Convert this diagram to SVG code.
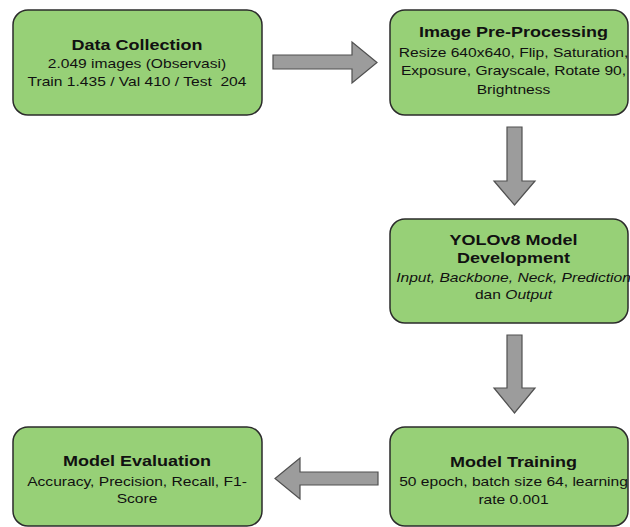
<svg xmlns="http://www.w3.org/2000/svg" width="630" height="527" viewBox="0 0 630 527">
  <style>
    .box { fill: #97D077; stroke: #2b2b2b; stroke-width: 1.5; }
    .arrow { fill: #9c9c9c; stroke: #505050; stroke-width: 1.2; stroke-linejoin: miter; }
    text { font-family: "Liberation Sans", Arial, sans-serif; fill: #111; text-anchor: middle; }
    .title { font-size: 15px; font-weight: bold; }
    .body { font-size: 13px; }
    .it { font-style: italic; }
  </style>
  <rect width="630" height="527" fill="#ffffff"/>

  <g id="connectors">
    <path class="arrow" d="M273,55 H352 V42 L377,62.5 L352,83 V69 H273 Z"/>
    <path class="arrow" d="M507,127 H522 V181 H535 L514.5,205 L494,181 H507 Z"/>
    <path class="arrow" d="M507,335 H522 V388 H535 L514.5,413 L494,388 H507 Z"/>
    <path class="arrow" d="M378,472 H300 V458 L275,478.5 L300,499 V485 H378 Z"/>
  </g>

  <g id="data-collection">
    <rect class="box" x="13" y="10" width="249" height="105" rx="15" ry="15"/>
    <g transform="translate(137 0) scale(1.2 1)">
      <text class="title" x="0" y="50">Data Collection</text>
      <text class="body" x="0" y="68.5">2.049 images (Observasi)</text>
      <text class="body" x="0" y="86.5" xml:space="preserve">Train 1.435 / Val 410 / Test  204</text>
    </g>
  </g>

  <g id="image-preprocessing">
    <rect class="box" x="390" y="10" width="238" height="105" rx="15" ry="15"/>
    <g transform="translate(513.5 0) scale(1.2 1)">
      <text class="title" x="0" y="37.5">Image Pre-Processing</text>
      <text class="body" x="0" y="57">Resize 640x640, Flip, Saturation,</text>
      <text class="body" x="0" y="75.5">Exposure, Grayscale, Rotate 90,</text>
      <text class="body" x="0" y="94">Brightness</text>
    </g>
  </g>

  <g id="yolov8-development">
    <rect class="box" x="390" y="219" width="238" height="104" rx="15" ry="15"/>
    <g transform="translate(513.5 0) scale(1.2 1)">
      <text class="title" x="0" y="245">YOLOv8 Model</text>
      <text class="title" x="0" y="263.5">Development</text>
      <text class="body it" x="0" y="282">Input, Backbone, Neck, Prediction</text>
      <text class="body" x="0" y="299.5">dan <tspan class="it">Output</tspan></text>
    </g>
  </g>

  <g id="model-training">
    <rect class="box" x="390" y="427" width="238" height="99" rx="15" ry="15"/>
    <g transform="translate(513.5 0) scale(1.2 1)">
      <text class="title" x="0" y="467">Model Training</text>
      <text class="body" x="0" y="486.5">50 epoch, batch size 64, learning</text>
      <text class="body" x="0" y="504">rate 0.001</text>
    </g>
  </g>

  <g id="model-evaluation">
    <rect class="box" x="13" y="427" width="249" height="99" rx="15" ry="15"/>
    <g transform="translate(137 0) scale(1.2 1)">
      <text class="title" x="0" y="466">Model Evaluation</text>
      <text class="body" x="0" y="486">Accuracy, Precision, Recall, F1-</text>
      <text class="body" x="0" y="503">Score</text>
    </g>
  </g>
</svg>
